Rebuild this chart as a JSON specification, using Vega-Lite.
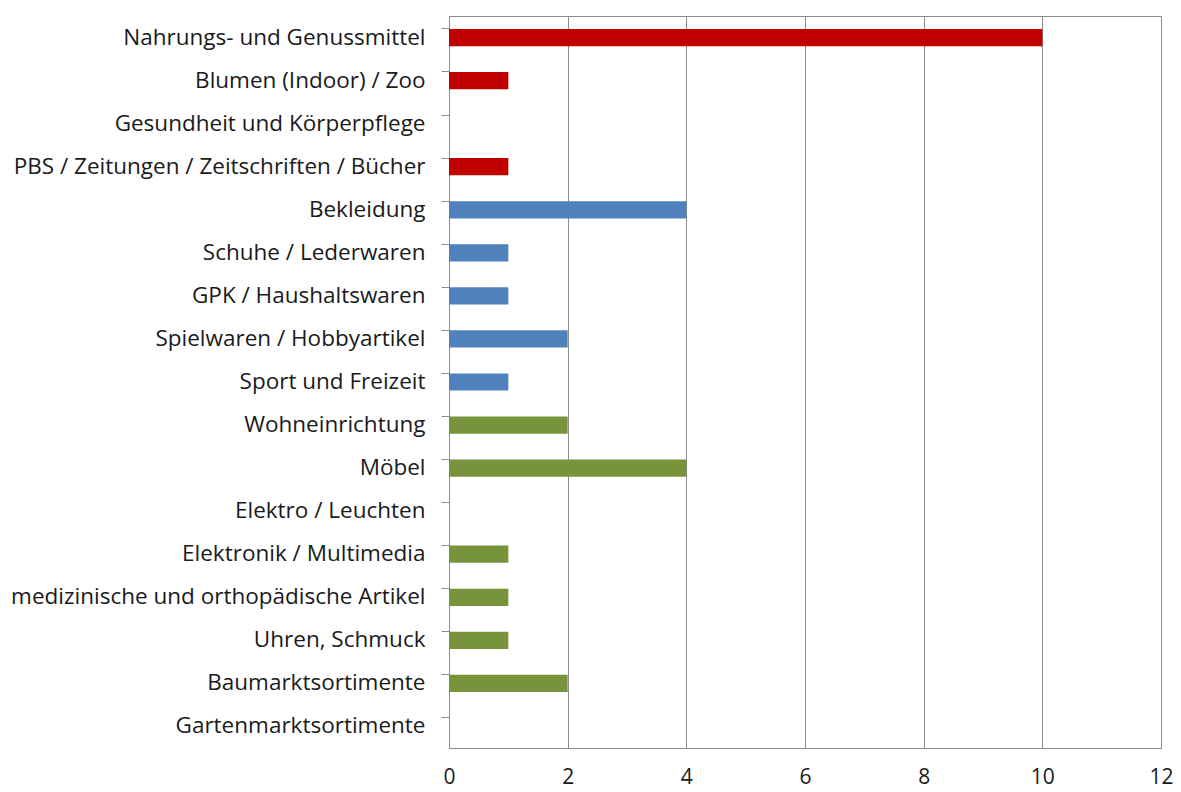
{
  "$schema": "https://vega.github.io/schema/vega-lite/v6.json",
  "width": 712,
  "height": 732,
  "autosize": "none",
  "padding": {"left": 449, "top": 16, "right": 20, "bottom": 44},
  "background": "white",
  "config": {
    "font": "Open Sans",
    "view": {"stroke": "#8c8c8c", "strokeWidth": 1}
  },
  "data": {
    "values": [
      {"kategorie": "Nahrungs- und Genussmittel", "wert": 10, "gruppe": "A"},
      {"kategorie": "Blumen (Indoor) / Zoo", "wert": 1, "gruppe": "A"},
      {"kategorie": "Gesundheit und Körperpflege", "wert": 0, "gruppe": "A"},
      {"kategorie": "PBS / Zeitungen / Zeitschriften / Bücher", "wert": 1, "gruppe": "A"},
      {"kategorie": "Bekleidung", "wert": 4, "gruppe": "B"},
      {"kategorie": "Schuhe / Lederwaren", "wert": 1, "gruppe": "B"},
      {"kategorie": "GPK / Haushaltswaren ", "wert": 1, "gruppe": "B"},
      {"kategorie": "Spielwaren / Hobbyartikel", "wert": 2, "gruppe": "B"},
      {"kategorie": "Sport und Freizeit", "wert": 1, "gruppe": "B"},
      {"kategorie": "Wohneinrichtung", "wert": 2, "gruppe": "C"},
      {"kategorie": "Möbel", "wert": 4, "gruppe": "C"},
      {"kategorie": "Elektro / Leuchten", "wert": 0, "gruppe": "C"},
      {"kategorie": "Elektronik / Multimedia", "wert": 1, "gruppe": "C"},
      {"kategorie": "medizinische und orthopädische Artikel", "wert": 1, "gruppe": "C"},
      {"kategorie": "Uhren, Schmuck", "wert": 1, "gruppe": "C"},
      {"kategorie": "Baumarktsortimente", "wert": 2, "gruppe": "C"},
      {"kategorie": "Gartenmarktsortimente", "wert": 0, "gruppe": "C"}
    ]
  },
  "mark": {"type": "bar"},
  "encoding": {
    "y": {
      "field": "kategorie",
      "type": "nominal",
      "sort": null,
      "scale": {"paddingInner": 0.6, "paddingOuter": 0.3},
      "axis": {
        "title": null,
        "labelFontSize": 22.5,
        "labelColor": "#1a1a1a",
        "labelPadding": 16,
        "tickSize": 8,
        "tickColor": "#8c8c8c",
        "bandPosition": 0,
        "domainColor": "#8c8c8c",
        "grid": false,
        "labelLimit": 500
      }
    },
    "x": {
      "field": "wert",
      "type": "quantitative",
      "scale": {"domain": [0, 12], "nice": false},
      "axis": {
        "title": null,
        "values": [0, 2, 4, 6, 8, 10, 12],
        "labelFontSize": 21,
        "labelColor": "#1a1a1a",
        "labelPadding": 18,
        "labelFlush": false,
        "labelOverlap": false,
        "tickSize": 0,
        "domainColor": "#8c8c8c",
        "gridColor": "#8c8c8c",
        "gridOpacity": 1,
        "grid": true
      }
    },
    "color": {
      "field": "gruppe",
      "type": "nominal",
      "scale": {"domain": ["A", "B", "C"], "range": ["#C00000", "#4F81BD", "#77933C"]},
      "legend": null
    }
  }
}
